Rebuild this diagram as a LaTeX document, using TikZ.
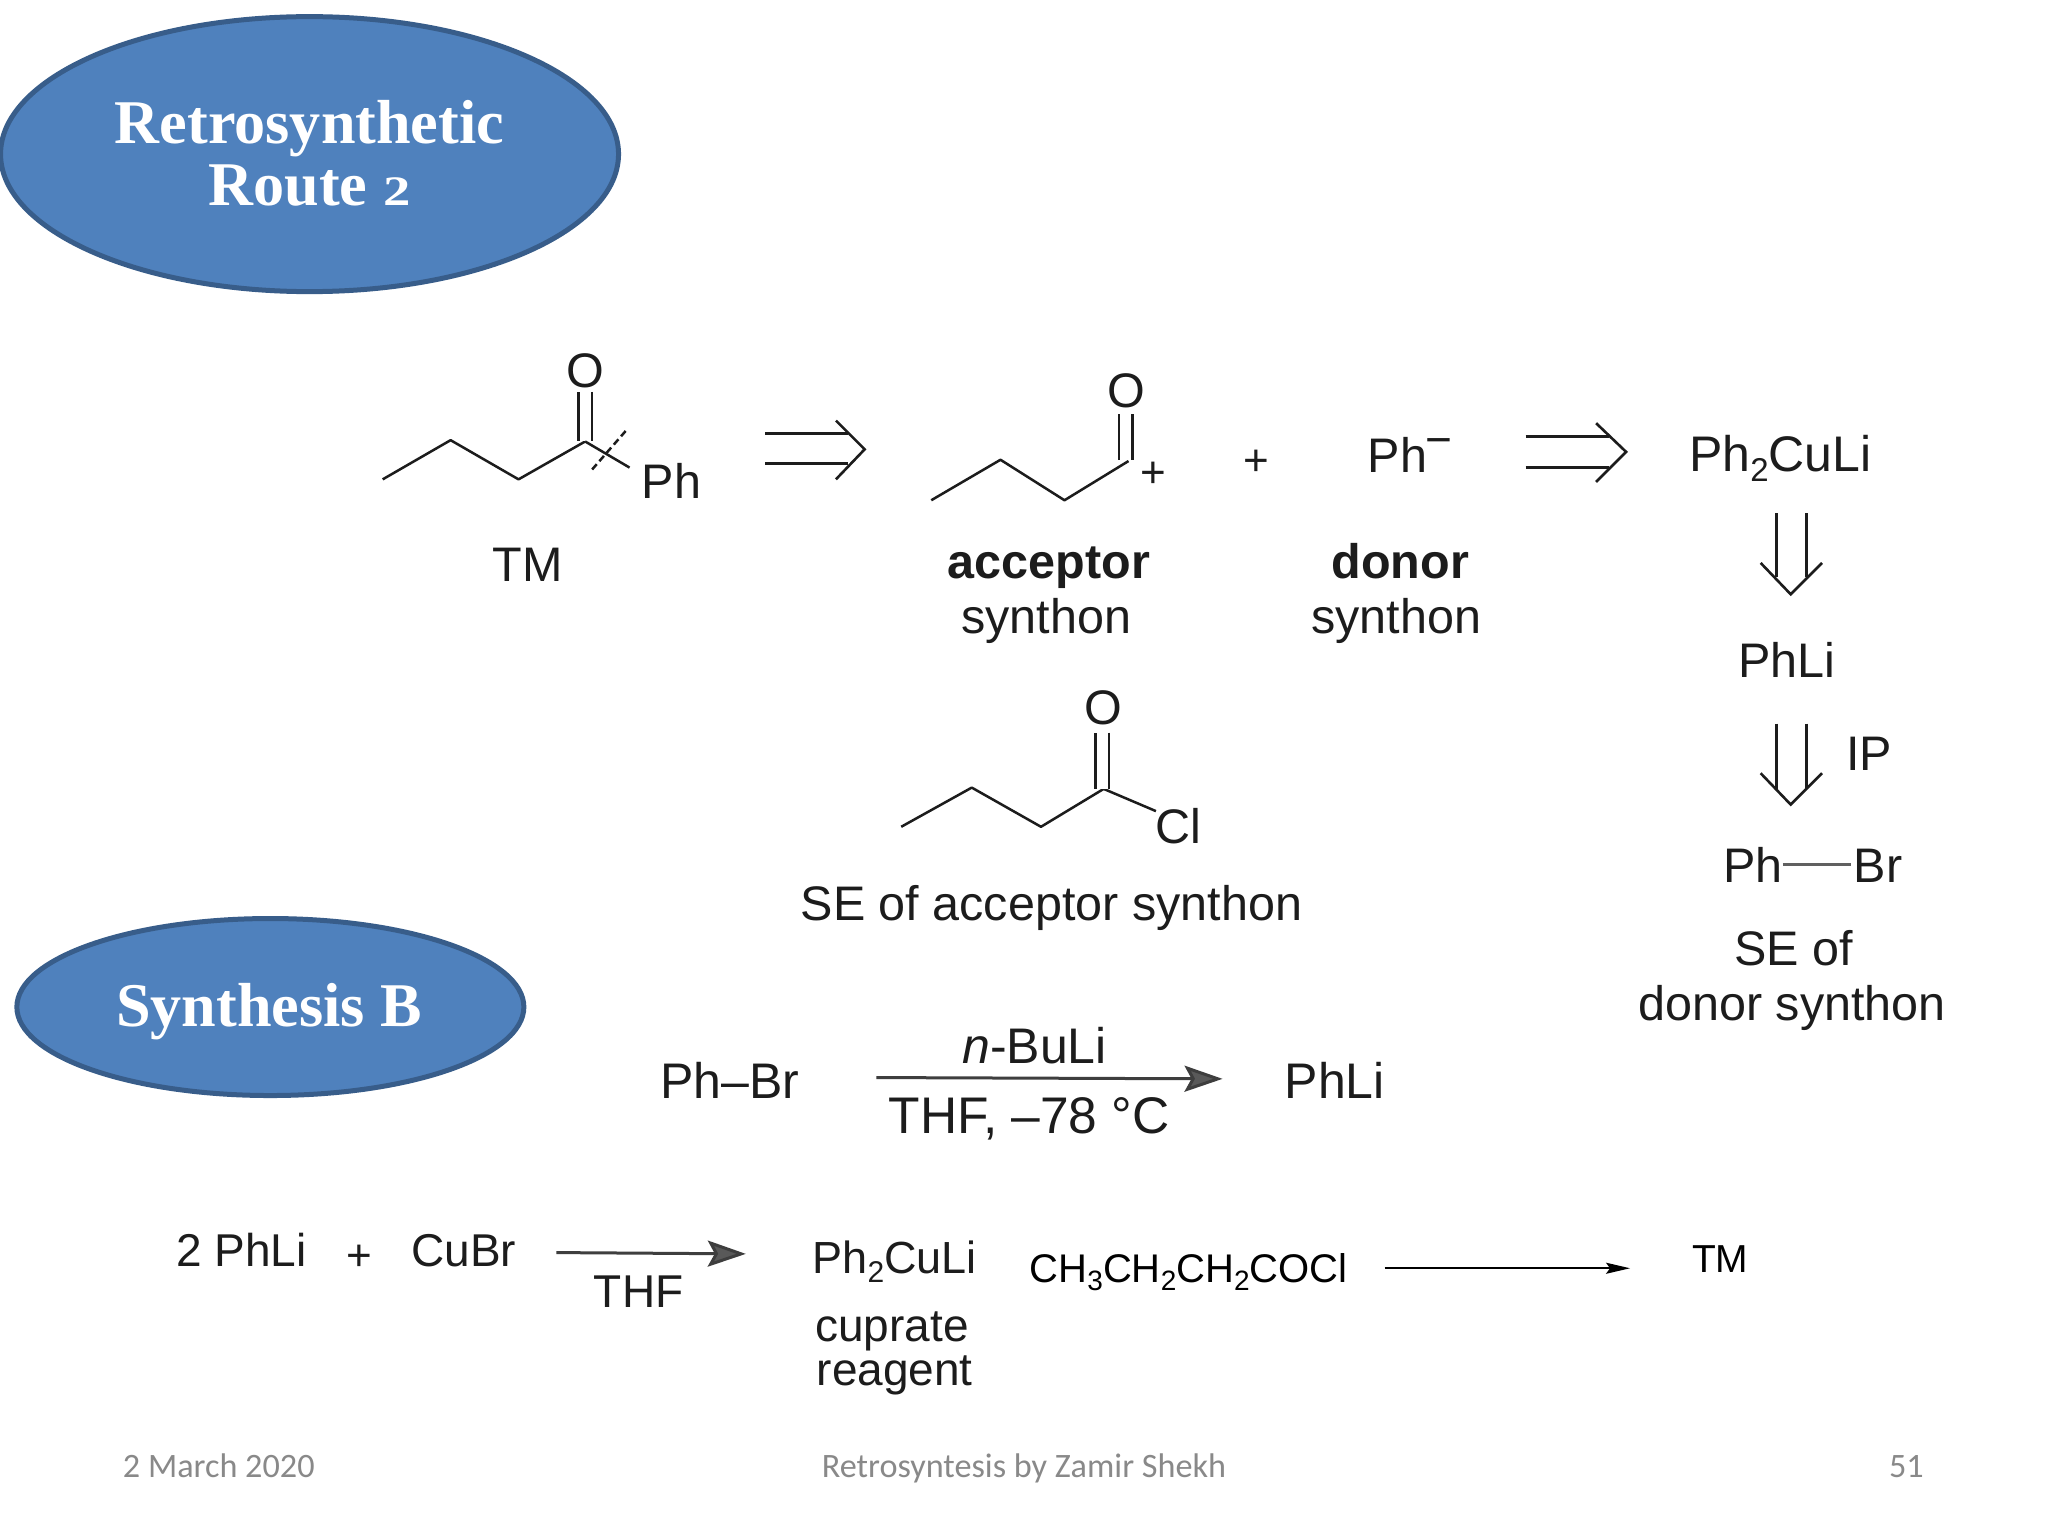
\documentclass[tikz,border=0pt]{standalone}
\usepackage{graphicx}
\usepackage{fontspec}
\setmainfont{Liberation Sans}
\newfontfamily\titlefont{Liberation Serif}
\newfontfamily\footfont{Carlito}
\usetikzlibrary{arrows.meta,shapes.geometric}
\definecolor{ovalfill}{HTML}{4F81BD}
\definecolor{ovalline}{HTML}{385D8A}
\definecolor{ink}{HTML}{1C1C1C}
\definecolor{foot}{HTML}{898989}
\newcommand{\fsz}[1]{\fontsize{#1}{#1}\selectfont}
\newcommand{\lowsub}[2]{\raisebox{-0.2em}{\fsz{#1}#2}}
\tikzset{
  x=1.30612pt,y=-1.30612pt,
  oval/.style={shape=ellipse,draw=ovalline,fill=ovalfill,line width=5pt,inner sep=0pt},
  titletext/.style={text=white,anchor=base,inner sep=0pt,font=\titlefont\bfseries\fsz{62.2}},
  lab/.style={text=ink,anchor=base,inner sep=0pt,font=\fsz{48.5}},
  rxnlab/.style={lab,font=\fsz{50}},
  smalllab/.style={lab,font=\fsz{46}},
  crisp/.style={text=black,anchor=base,inner sep=0pt,font=\fsz{39}},
  foottext/.style={text=foot,anchor=base,inner sep=0pt,font=\footfont\fsz{34.2}},
  bond/.style={draw=ink,line width=2.5pt,line join=round},
  dblbond/.style={draw=ink,line width=2.5pt,double=white,double distance=11pt},
  retro/.style={draw=ink,line width=2.6pt,line join=miter},
  solidarrow/.style={draw=ink!85,line width=3pt,-{Stealth[length=38pt,width=26pt,fill=gray!70!black,inset=7pt]}},
  thinarrow/.style={draw=black,line width=1.8pt,-{Stealth[length=24pt,width=11pt,inset=4pt]}},
}
\begin{document}
\begin{tikzpicture}
\useasboundingbox (0,0) rectangle (1568,1176);
\fill[white] (0,0) rectangle (1568,1176);

% ovals and their titles
\node[oval,minimum width=618pt,minimum height=275pt] (ovalA) at (237,118) {};
\node[oval,minimum width=507pt,minimum height=177pt] (ovalB) at (207,771) {};
\node[titletext] (titleA1) at (237,110) {Retrosynthetic};
\node[titletext] (titleA2) at (237,157) {Route \scalebox{1.3}[1]{\fsz{42}2}};
\node[titletext] (titleB) at (206,786) {Synthesis B};

% target molecule
\coordinate (t1) at (293,367); \coordinate (t2) at (345,337);
\coordinate (t3) at (397,367); \coordinate (t4) at (448,338);
\node[lab] (tO) at (448,297) {O};
\node[lab] (tPh) at (514,382) {Ph};
\node[lab] (tTM) at (404,445) {TM};
\coordinate (cutA) at (479,330); \coordinate (cutB) at (452,361);
\coordinate (tdb) at (448,300); \coordinate (tp) at (482,358);
\draw[bond] (t1) -- (t2) -- (t3) -- (t4);
\draw[dblbond] (tdb) -- (t4);
\draw[bond] (t4) -- (tp);
\draw[bond,dash pattern=on 7pt off 4pt] (cutA) -- (cutB);

% retro arrow 1
\coordinate (r1a) at (586,332); \coordinate (r1b) at (586,355);
\coordinate (r1c) at (649,332); \coordinate (r1d) at (649,355);
\coordinate (r1tip) at (662,344); \coordinate (r1u) at (640,322); \coordinate (r1l) at (640,367);
\draw[retro] (r1a) -- (r1c); \draw[retro] (r1b) -- (r1d);
\draw[retro] (r1u) -- (r1tip) -- (r1l);

% acceptor synthon
\coordinate (a1) at (713,383); \coordinate (a2) at (766,352);
\coordinate (a3) at (815,383); \coordinate (a4) at (864,353);
\coordinate (adb) at (862,317); \coordinate (adc) at (862,352);
\node[lab] (aO) at (862,312) {O};
\node[lab,font=\fsz{44}] (aPlus) at (883,373) {+};
\draw[bond] (a1) -- (a2) -- (a3) -- (a4);
\draw[dblbond] (adb) -- (adc);
\node[lab,font=\bfseries\fsz{48.5}] (aBold) at (803,443) {acceptor};
\node[lab] (aSyn) at (801,485) {synthon};

% plus, donor synthon
\node[lab,font=\fsz{44}] (plusA) at (962,364) {+};
\node[lab,anchor=base west] (dPh) at (1047,362) {Ph\hspace{-0.04em}\raisebox{0.36em}{\fsz{46}−}};
\node[lab,font=\bfseries\fsz{48.5}] (dBold) at (1072,443) {donor};
\node[lab] (dSyn) at (1069,485) {synthon};

% retro arrow 2
\coordinate (r2a) at (1168,334); \coordinate (r2b) at (1168,358);
\coordinate (r2c) at (1232,334); \coordinate (r2d) at (1232,358);
\coordinate (r2tip) at (1245,346); \coordinate (r2u) at (1222,324); \coordinate (r2l) at (1222,369);
\draw[retro] (r2a) -- (r2c); \draw[retro] (r2b) -- (r2d);
\draw[retro] (r2u) -- (r2tip) -- (r2l);

% right column
\node[lab,font=\fsz{50}] (cuprateTop) at (1363,361) {Ph\lowsub{33}{2}CuLi};
\coordinate (d1a) at (1360,393); \coordinate (d1b) at (1383,393);
\coordinate (d1c) at (1360,442); \coordinate (d1d) at (1383,442);
\coordinate (d1tip) at (1371,455); \coordinate (d1u) at (1348,431); \coordinate (d1l) at (1395,431);
\draw[retro] (d1a) -- (d1c); \draw[retro] (d1b) -- (d1d);
\draw[retro] (d1u) -- (d1tip) -- (d1l);
\node[lab] (phliTop) at (1368,519) {PhLi};
\coordinate (d2a) at (1360,554); \coordinate (d2b) at (1383,554);
\coordinate (d2c) at (1360,604); \coordinate (d2d) at (1383,604);
\coordinate (d2tip) at (1371,616); \coordinate (d2u) at (1348,592); \coordinate (d2l) at (1395,592);
\draw[retro] (d2a) -- (d2c); \draw[retro] (d2b) -- (d2d);
\draw[retro] (d2u) -- (d2tip) -- (d2l);
\node[lab] (ipLabel) at (1431,590) {IP};
\node[lab] (brPh) at (1342,676) {Ph};
\node[lab] (brBr) at (1438,676) {Br};
\coordinate (brA) at (1365,662); \coordinate (brB) at (1417,662);
\draw[draw=ink!70,line width=3pt] (brA) -- (brB);
\node[lab] (seDonor1) at (1373,739) {SE of};
\node[lab] (seDonor2) at (1372,781) {donor synthon};

% acid chloride
\coordinate (s1) at (690,633); \coordinate (s2) at (744,603);
\coordinate (s3) at (797,633); \coordinate (s4) at (845,604);
\coordinate (sdb) at (844,561); \coordinate (sdc) at (844,604); \coordinate (scl) at (885,621);
\node[lab] (sO) at (845,555) {O};
\node[lab] (sCl) at (902,646) {Cl};
\draw[bond] (s1) -- (s2) -- (s3) -- (s4) -- (scl);
\draw[dblbond] (sdb) -- (sdc);
\node[lab] (seAcc) at (805,705) {SE of acceptor synthon};

% n-BuLi reaction
\node[rxnlab] (rBr) at (559,841) {Ph–Br};
\coordinate (n1) at (671,825); \coordinate (n2) at (936,826);
\draw[solidarrow] (n1) -- (n2);
\node[rxnlab] (nBu) at (792,814) {\textit{n}-BuLi};
\node[rxnlab,font=\fsz{51.5}] (nThf) at (788,868) {THF, –78 °C};
\node[rxnlab] (rLi) at (1022,841) {PhLi};

% cuprate formation
\node[smalllab] (twoLi) at (185,970) {2 PhLi};
\node[lab,font=\fsz{44}] (plusB) at (275,973) {+};
\node[smalllab] (cuBr) at (355,970) {CuBr};
\coordinate (c1) at (426,959); \coordinate (c2) at (571,960);
\draw[solidarrow] (c1) -- (c2);
\node[smalllab] (cThf) at (489,1001) {THF};
\node[smalllab,font=\fsz{45}] (cProd) at (685,975) {Ph\lowsub{30}{2}CuLi};
\node[smalllab] (cup1) at (683,1027) {cuprate};
\node[smalllab] (cup2) at (685,1061) {reagent};

% last step
\node[crisp,font=\fsz{40}] (acid) at (910,982) {CH\lowsub{28}{3}CH\lowsub{28}{2}CH\lowsub{28}{2}COCl};
\coordinate (l1) at (1060,971); \coordinate (l2) at (1248,971);
\draw[thinarrow] (l1) -- (l2);
\node[crisp] (lastTM) at (1317,974) {TM};

% footer
\node[foottext,anchor=base west] (fDate) at (94,1131) {2 March 2020};
\node[foottext] (fMid) at (784,1131) {Retrosyntesis by Zamir Shekh};
\node[foottext,anchor=base east] (fNum) at (1473,1131) {51};
\end{tikzpicture}
\end{document}
